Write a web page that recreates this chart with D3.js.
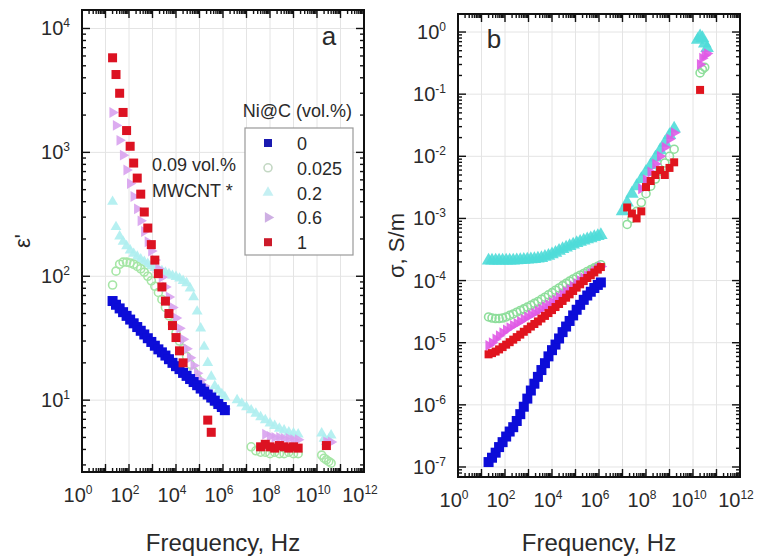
<!DOCTYPE html>
<html>
<head>
<meta charset="utf-8">
<script src="https://cdn.jsdelivr.net/npm/d3@7"></script>
<style>
  body { margin: 0; background: #fff; }
  svg text { font-family: Arial, "Liberation Sans", sans-serif; fill: #2a2a2a; }
</style>
</head>
<body>
<svg id="chart" width="762" height="559"></svg>
<script>
//
// Data
//

// low frequency analyser, Hz
var freqLF = [20, 28, 40, 56, 79, 112, 158, 224, 316, 447, 631, 891, 1259, 1778, 2512, 3548,
  5012, 7079, 1e4, 1.41e4, 2e4, 2.82e4, 3.98e4, 5.62e4, 7.94e4, 1.12e5, 1.58e5, 2.24e5,
  3.16e5, 4.47e5, 6.31e5, 8.91e5, 1.2e6]
// coaxial line, Hz
var freqHF = [3.98e6, 6.31e6, 1e7, 1.58e7, 2.51e7, 3.98e7, 6.31e7, 1e8, 1.58e8, 2.51e8,
  3.98e8, 6.31e8, 1e9, 1.58e9]
// waveguide, Hz
var freqMW = [1.58e10, 2e10, 2.51e10, 3.16e10, 3.98e10]

var series = ['0', '0.025', '0.2', '0.6', '1']

// eps' (panel a)
var eps_0 = [63.1, 58.9, 55.0, 51.3, 47.9, 44.7, 41.7, 38.9, 36.3, 33.9, 31.6, 29.5, 27.5, 25.7,
  24.3, 22.9, 21.4, 20.0, 18.8, 17.8, 16.6, 15.7, 14.8, 14.0, 13.2, 12.4, 11.7, 11.1, 10.5,
  9.9, 9.3, 8.8, 8.3]
var eps_0025 = [85, 110, 125, 130, 130, 128, 125, 120, 115, 108, 100, 92, 83, 74, 65, 56, 48,
  41, 35, 30, 26, 22.5, 19.5, 17, 15, 13.3, 12, 11, 10.2, 9.6, 9.1, 8.7, 8.4]
var eps_02 = [400, 250, 210, 190, 175, 162, 152, 144, 137, 131, 126, 121, 117, 113, 110, 107,
  104, 101, 99, 96, 92, 88, 80, 68, 52, 38, 27, 20, 15.5, 13, 12, 11.2, 10.6]
var eps_06 = [2100, 1650, 1250, 950, 720, 560, 440, 350, 280, 230, 190, 160, 135, 115, 98, 82,
  68, 56, 46, 38, 31, 26, 22, 19, 16.5, 14.5, 13, 11.8, 10.8, 10, 9.4, 8.9, 8.5]
var eps_1 = [5800, 4250, 3000, 2100, 1500, 1120, 820, 620, 460, 330, 245, 180, 135, 105, 82,
  63, 50, 40, 32, 25, 20, null, null, null, null, null, null, 6.9, 5.5, null, null, null, null]

var epsHF_0 = [null, null, null, null, null, null, null, null, null, null, null, null, null, null]
var epsHF_0025 = [null, null, null, 4.2, 3.9, 3.8, 3.8, 3.7, 3.8, 3.7, 3.7, 3.8, 3.7, 3.7]
var epsHF_02 = [10.0, 9.4, 8.8, 8.3, 7.8, 7.3, 6.9, 6.5, 6.2, 5.9, 5.7, 5.5, 5.4, 5.3]
var epsHF_06 = [null, null, null, null, null, null, 5.3, 5.1, 5.0, 5.0, 4.9, 4.9, 4.8, 4.8]
var epsHF_1 = [null, null, null, null, null, 4.2, 4.4, 4.2, 4.1, 4.3, 4.2, 4.1, 4.2, 4.1]

var epsMW_0 = [null, null, null, null, null]
var epsMW_0025 = [3.6, 3.4, 3.3, 3.2, 3.1]
var epsMW_02 = [5.4, 4.9, 4.6, 4.8, 5.2]
var epsMW_06 = [null, null, 4.6, 4.5, 4.6]
var epsMW_1 = [null, null, 4.3, null, null]

// sigma, S/m (panel b)
var sig_0 = [1.2e-7, 1.41e-7, 1.7e-7, 2.09e-7, 2.51e-7, 3.09e-7, 3.72e-7, 4.37e-7, 5.5e-7,
  7.08e-7, 9.33e-7, 1.26e-6, 1.7e-6, 2.19e-6, 2.82e-6, 3.63e-6, 4.68e-6, 6.03e-6, 7.59e-6,
  9.33e-6, 1.17e-5, 1.48e-5, 1.82e-5, 2.24e-5, 2.75e-5, 3.39e-5, 4.07e-5, 4.9e-5, 5.75e-5,
  6.61e-5, 7.59e-5, 8.51e-5, 9.33e-5]
var sig_0025 = [2.6e-5, 2.5e-5, 2.45e-5, 2.45e-5, 2.5e-5, 2.6e-5, 2.75e-5, 2.9e-5, 3.1e-5,
  3.3e-5, 3.5e-5, 3.75e-5, 4.0e-5, 4.3e-5, 4.6e-5, 5.0e-5, 5.4e-5, 5.9e-5, 6.4e-5, 7.0e-5,
  7.6e-5, 8.3e-5, 9.0e-5, 9.8e-5, 1.06e-4, 1.14e-4, 1.22e-4, 1.3e-4, 1.4e-4, 1.5e-4, 1.6e-4,
  1.7e-4, 1.8e-4]
var sig_02 = [2.1e-4, 2.1e-4, 2.1e-4, 2.1e-4, 2.1e-4, 2.1e-4, 2.1e-4, 2.1e-4, 2.12e-4, 2.14e-4,
  2.16e-4, 2.18e-4, 2.2e-4, 2.22e-4, 2.25e-4, 2.3e-4, 2.4e-4, 2.5e-4, 2.65e-4, 2.8e-4, 3.0e-4,
  3.2e-4, 3.4e-4, 3.6e-4, 3.8e-4, 4.0e-4, 4.2e-4, 4.4e-4, 4.6e-4, 4.8e-4, 5.0e-4, 5.2e-4, 5.4e-4]
var sig_06 = [9e-6, 1.0e-5, 1.15e-5, 1.3e-5, 1.45e-5, 1.6e-5, 1.75e-5, 1.9e-5, 2.05e-5, 2.2e-5,
  2.4e-5, 2.6e-5, 2.8e-5, 3.0e-5, 3.25e-5, 3.5e-5, 3.8e-5, 4.1e-5, 4.5e-5, 4.9e-5, 5.4e-5,
  6.0e-5, 6.6e-5, 7.3e-5, 8.1e-5, 9.0e-5, 1.0e-4, 1.1e-4, 1.2e-4, 1.3e-4, 1.42e-4, 1.55e-4, 1.68e-4]
var sig_1 = [6.5e-6, 6.8e-6, 7.2e-6, 7.8e-6, 8.5e-6, 9.3e-6, 1.02e-5, 1.12e-5, 1.23e-5, 1.35e-5,
  1.5e-5, 1.65e-5, 1.82e-5, 2.0e-5, 2.2e-5, 2.45e-5, 2.7e-5, 3.0e-5, 3.35e-5, 3.75e-5, 4.2e-5,
  4.7e-5, 5.3e-5, 6.0e-5, 6.8e-5, 7.7e-5, 8.7e-5, 9.8e-5, 1.1e-4, 1.22e-4, 1.35e-4, 1.5e-4, 1.65e-4]

var sigHF_0 = [null, null, null, null, null, null, null, null, null, null, null, null, null, null]
var sigHF_0025 = [null, null, null, 8e-4, 1.0e-3, 1.3e-3, 1.8e-3, 2.5e-3, 3.3e-3, 4.3e-3, 5.8e-3,
  7.8e-3, 1.0e-2, 1.3e-2]
var sigHF_02 = [null, null, 1.3e-3, 1.8e-3, 2.5e-3, 3.3e-3, 4.3e-3, 5.6e-3, 7.2e-3, 9.5e-3,
  1.25e-2, 1.65e-2, 2.2e-2, 2.8e-2]
var sigHF_06 = [null, null, null, null, null, null, 3.0e-3, 4.2e-3, 5.6e-3, 7.5e-3, 1.0e-2,
  1.4e-2, 1.9e-2, 2.4e-2]
var sigHF_1 = [null, null, null, 1.5e-3, 1.2e-3, 1.0e-3, 1.3e-3, 3.2e-3, 4.0e-3, 5.0e-3, 6.0e-3,
  5.0e-3, 6.5e-3, 8.0e-3]

var sigMW_0 = [null, null, null, null, null]
var sigMW_0025 = [null, 0.22, 0.25, 0.27, null]
var sigMW_02 = [0.75, 0.85, 0.8, 0.65, 0.55]
var sigMW_06 = [null, 0.3, 0.38, 0.42, 0.45]
var sigMW_1 = [null, 0.117, null, null, null]

var xTicks = [1, 1e2, 1e4, 1e6, 1e8, 1e10, 1e12]
var epsTicks = [1e1, 1e2, 1e3, 1e4]
var sigTicks = [1e-7, 1e-6, 1e-5, 1e-4, 1e-3, 1e-2, 1e-1, 1]

//
// Styles
//

// the scan is washed out in panel a and in the legend, stronger in panel b
var colorsA = { '0': '#0c0cd8', '0.025': '#a6e6a6', '0.2': '#aeeef0', '0.6': '#d8a2ee', '1': '#dc1222' }
var colorsB = { '0': '#0c0cd8', '0.025': '#8fde9c', '0.2': '#4fdcd8', '0.6': '#e05ae6', '1': '#e0141e' }
var colorsLegend = { '0': '#1a1ab0', '0.025': '#c4d8c4', '0.2': '#bfeef2', '0.6': '#c9a6e0', '1': '#cc1a2a' }
// drawing order, back to front
var drawOrder = ['0.2', '0.025', '0.6', '0', '1']

var svg = d3.select('#chart')
var freqAll = freqLF.concat(freqHF, freqMW)

function joined(lf, hf, mw) {
  return lf.concat(hf, mw)
}

var epsData = {
  '0': joined(eps_0, epsHF_0, epsMW_0),
  '0.025': joined(eps_0025, epsHF_0025, epsMW_0025),
  '0.2': joined(eps_02, epsHF_02, epsMW_02),
  '0.6': joined(eps_06, epsHF_06, epsMW_06),
  '1': joined(eps_1, epsHF_1, epsMW_1)
}
var sigData = {
  '0': joined(sig_0, sigHF_0, sigMW_0),
  '0.025': joined(sig_0025, sigHF_0025, sigMW_0025),
  '0.2': joined(sig_02, sigHF_02, sigMW_02),
  '0.6': joined(sig_06, sigHF_06, sigMW_06),
  '1': joined(sig_1, sigHF_1, sigMW_1)
}

function marker(sel, name, c, size) {
  if (name === '0' || name === '1') {
    sel.append('rect').attr('x', -size / 2).attr('y', -size / 2)
      .attr('width', size).attr('height', size).attr('fill', c)
  } else if (name === '0.025') {
    sel.append('circle').attr('r', size / 2).attr('fill', 'none').attr('stroke', c).attr('stroke-width', 1.6)
  } else if (name === '0.2') {
    sel.append('path').attr('d', d3.symbol().type(d3.symbolTriangle).size(size * size * 0.8)())
      .attr('fill', c).attr('opacity', 0.9)
  } else {
    sel.append('path').attr('d', d3.symbol().type(d3.symbolTriangle).size(size * size * 0.8)())
      .attr('transform', 'rotate(90)').attr('fill', c).attr('opacity', 0.9)
  }
}

function powLabel(text, exp) {
  text.append('tspan').text('10')
  text.append('tspan').attr('dy', -8).attr('font-size', 12).text(exp)
}

function drawPanel(p) {
  var x = d3.scaleLog().domain([1, 1e12]).range([p.left, p.right])
  var y = d3.scaleLog().domain(p.yDomain).range([p.bottom, p.top])
  var g = svg.append('g')

  g.append('clipPath').attr('id', 'clip-' + p.name)
    .append('rect').attr('x', p.left).attr('y', p.top)
    .attr('width', p.right - p.left).attr('height', p.bottom - p.top)

  // decade grid
  var xDec = d3.range(0, 13)
  var yDec = d3.range(Math.ceil(Math.log10(p.yDomain[0])), Math.floor(Math.log10(p.yDomain[1])) + 1)
  g.selectAll('.gx').data(xDec).enter().append('line')
    .attr('x1', function(d) { return x(Math.pow(10, d)) })
    .attr('x2', function(d) { return x(Math.pow(10, d)) })
    .attr('y1', p.top).attr('y2', p.bottom)
    .attr('stroke', '#e4e4e4').attr('stroke-width', 1)
  g.selectAll('.gy').data(yDec).enter().append('line')
    .attr('y1', function(d) { return y(Math.pow(10, d)) })
    .attr('y2', function(d) { return y(Math.pow(10, d)) })
    .attr('x1', p.left).attr('x2', p.right)
    .attr('stroke', '#e4e4e4').attr('stroke-width', 1)

  // data
  var plot = g.append('g').attr('clip-path', 'url(#clip-' + p.name + ')')
  drawOrder.forEach(function(name) {
    var vals = p.data[name]
    var pts = freqAll.map(function(f, i) { return { f: f, v: vals[i] } })
      .filter(function(d) { return d.v != null })
    plot.append('g').selectAll('g').data(pts).enter().append('g')
      .attr('transform', function(d) { return 'translate(' + x(d.f) + ',' + y(d.v) + ')' })
      .each(function() { marker(d3.select(this), name, p.colors[name], p.sizes[name]) })
  })

  // frame
  g.append('rect').attr('x', p.left).attr('y', p.top)
    .attr('width', p.right - p.left).attr('height', p.bottom - p.top)
    .attr('fill', 'none').attr('stroke', '#111').attr('stroke-width', 2)

  // ticks, all four sides, pointing in
  var xt = [], yt = []
  xDec.forEach(function(k) {
    for (var m = 1; m < 10; m++) {
      var v = m * Math.pow(10, k)
      if (v <= 1e12) xt.push({ v: v, major: m === 1 })
    }
  })
  d3.range(Math.floor(Math.log10(p.yDomain[0])), Math.ceil(Math.log10(p.yDomain[1]))).forEach(function(k) {
    for (var m = 1; m < 10; m++) {
      var v = m * Math.pow(10, k)
      if (v >= p.yDomain[0] && v <= p.yDomain[1]) yt.push({ v: v, major: m === 1 })
    }
  })
  var tk = g.append('g').attr('stroke', '#111').attr('stroke-width', 1.4)
  xt.forEach(function(t) {
    var len = t.major ? 8 : 4
    tk.append('line').attr('x1', x(t.v)).attr('x2', x(t.v)).attr('y1', p.bottom).attr('y2', p.bottom - len)
    tk.append('line').attr('x1', x(t.v)).attr('x2', x(t.v)).attr('y1', p.top).attr('y2', p.top + len)
  })
  yt.forEach(function(t) {
    var len = t.major ? 8 : 4
    tk.append('line').attr('y1', y(t.v)).attr('y2', y(t.v)).attr('x1', p.left).attr('x2', p.left + len)
    tk.append('line').attr('y1', y(t.v)).attr('y2', y(t.v)).attr('x1', p.right).attr('x2', p.right - len)
  })

  // tick labels
  xTicks.forEach(function(v) {
    var t = g.append('text').attr('x', x(v) - 4).attr('y', p.bottom + 30)
      .attr('text-anchor', 'middle').attr('font-size', 20)
    powLabel(t, String(Math.round(Math.log10(v))))
  })
  p.yTicks.forEach(function(v) {
    var t = g.append('text').attr('x', p.left - 12).attr('y', y(v) + 7)
      .attr('text-anchor', 'end').attr('font-size', 20)
    powLabel(t, String(Math.round(Math.log10(v))))
  })

  // axis titles
  g.append('text').attr('x', (p.left + p.right) / 2).attr('y', 551)
    .attr('text-anchor', 'middle').attr('font-size', 24).text('Frequency, Hz')
  g.append('text').attr('transform', 'translate(' + p.yTitleX + ',' + ((p.top + p.bottom) / 2) + ') rotate(-90)')
    .attr('text-anchor', 'middle').attr('font-size', 22).text(p.yTitle)

  // panel letter
  g.append('text').attr('x', p.letterX).attr('y', p.letterY)
    .attr('text-anchor', 'middle').attr('font-size', 26).text(p.name)
}

drawPanel({
  name: 'a', left: 82, right: 364, top: 10, bottom: 472,
  yDomain: [2.63, 14100], yTicks: epsTicks, data: epsData, colors: colorsA,
  sizes: { '0': 10, '0.025': 8, '0.2': 8, '0.6': 8, '1': 9 },
  yTitle: "ε'", yTitleX: 30, letterX: 329, letterY: 45
})
drawPanel({
  name: 'b', left: 458, right: 740, top: 14, bottom: 477,
  yDomain: [6.9e-8, 1.95], yTicks: sigTicks, data: sigData, colors: colorsB,
  sizes: { '0': 10, '0.025': 8, '0.2': 10, '0.6': 8, '1': 8 },
  yTitle: 'σ, S/m', yTitleX: 404, letterX: 494, letterY: 48
})

//
// Legend (panel a)
//

var legend = svg.append('g')
legend.append('text').attr('x', 352).attr('y', 117).attr('text-anchor', 'end')
  .attr('font-size', 18).text('Ni@C (vol.%)')
legend.append('rect').attr('x', 245).attr('y', 128).attr('width', 108).attr('height', 127)
  .attr('fill', '#fff').attr('stroke', '#999').attr('stroke-width', 1.2)
series.forEach(function(name, i) {
  var cy = 143 + i * 24.8
  var m = legend.append('g').attr('transform', 'translate(268,' + cy + ')')
  marker(m, name, colorsLegend[name], 8)
  legend.append('text').attr('x', 297).attr('y', cy + 7).attr('font-size', 18).text(name)
})
legend.append('text').attr('x', 152).attr('y', 171).attr('font-size', 18).text('0.09 vol.%')
legend.append('text').attr('x', 152).attr('y', 197).attr('font-size', 18).text('MWCNT *')
</script>
</body>
</html>
